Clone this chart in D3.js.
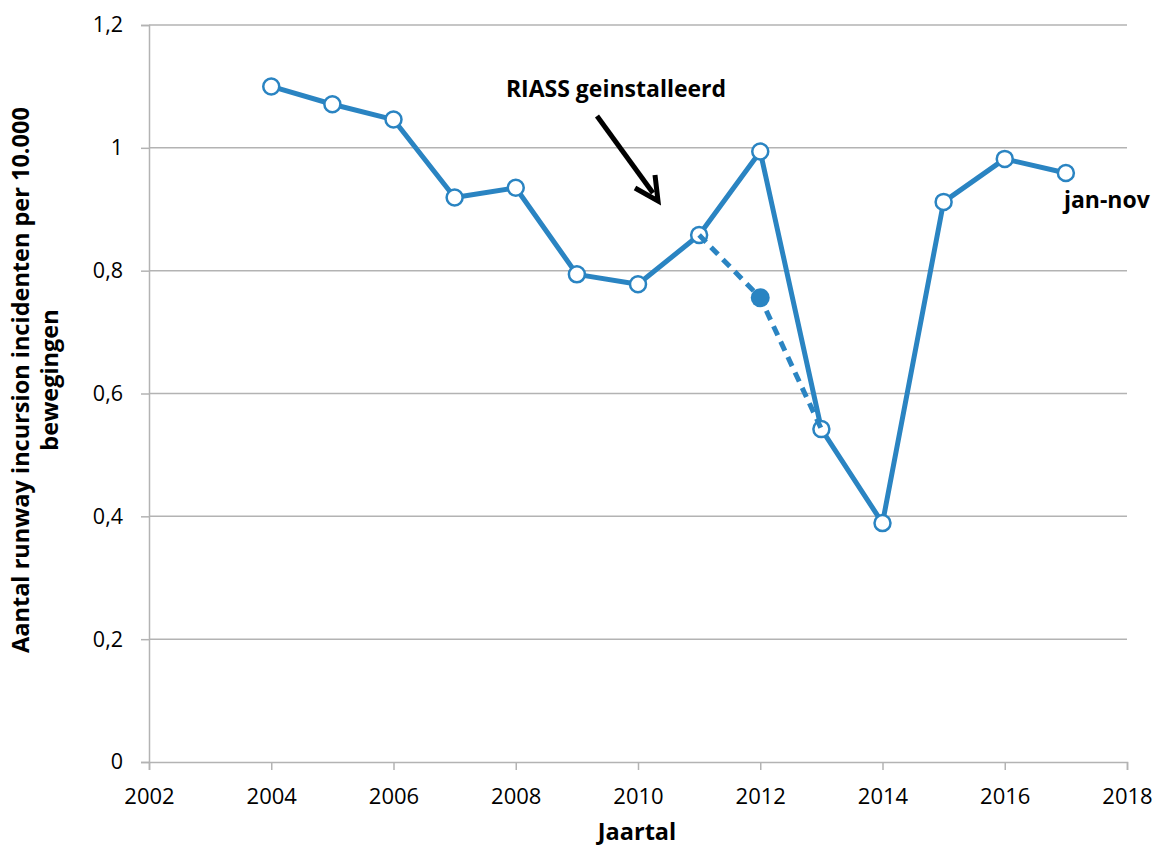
<!DOCTYPE html>
<html>
<head>
<meta charset="utf-8">
<script src="https://cdn.jsdelivr.net/npm/d3@7"></script>
<style>
  html, body { margin: 0; padding: 0; background: #fff; }
  svg { display: block; }
  text { font-family: "Open Sans", "Noto Sans", sans-serif; }
</style>
</head>
<body>
<svg id="chart" width="1157" height="847"></svg>
<script>
// Runway incursion incidents per 10,000 movements, by year
const years = [2004, 2005, 2006, 2007, 2008, 2009, 2010, 2011, 2012, 2013, 2014, 2015, 2016, 2017];
const rates = [1.10, 1.071, 1.046, 0.919, 0.935, 0.794, 0.778, 0.858, 0.994, 0.542, 0.389, 0.912, 0.982, 0.959];

// Alternative course for 2012 (dashed)
const altYears = [2011, 2012, 2013];
const altRates = [0.858, 0.756, 0.542];

const xTicks = [2002, 2004, 2006, 2008, 2010, 2012, 2014, 2016, 2018];
const yTicks = [0, 0.2, 0.4, 0.6, 0.8, 1.0, 1.2];

const annotationText = "RIASS geinstalleerd";
const lastPointNote = "jan-nov";
const yTitleLines = ["Aantal runway incursion incidenten per 10.000", "bewegingen"];
const xTitle = "Jaartal";

const blue = "#2a84c2";
const gridColor = "#b3b3b3";

const svg = d3.select("#chart");
const plotLeft = 149, plotRight = 1127, plotTop = 25, plotBottom = 762;

const x = d3.scaleLinear().domain([2002, 2018]).range([plotLeft, plotRight]);
const y = d3.scaleLinear().domain([0, 1.2]).range([plotBottom, plotTop]);
const fmt = v => String(+v.toFixed(1)).replace(".", ",");

// horizontal gridlines
svg.append("g")
  .selectAll("line")
  .data(yTicks.filter(d => d > 0))
  .join("line")
  .attr("x1", plotLeft).attr("x2", plotRight)
  .attr("y1", d => y(d)).attr("y2", d => y(d))
  .attr("stroke", gridColor).attr("stroke-width", 1.5);

// y axis
const yAxis = svg.append("g")
  .attr("transform", `translate(${plotLeft},0)`)
  .call(d3.axisLeft(y).tickValues(yTicks).tickFormat(fmt).tickSize(8).tickPadding(18));
yAxis.select(".domain").attr("stroke", gridColor).attr("stroke-width", 1.5);
yAxis.selectAll(".tick line").attr("stroke", gridColor).attr("stroke-width", 1.5);
yAxis.selectAll("text").attr("font-size", 21.5).attr("fill", "#000")
  .attr("font-family", "'Open Sans', sans-serif");

// x axis
const xAxis = svg.append("g")
  .attr("transform", `translate(0,${plotBottom})`)
  .call(d3.axisBottom(x).tickValues(xTicks).tickFormat(d3.format("d")).tickSize(8).tickPadding(18));
xAxis.select(".domain").attr("stroke", gridColor).attr("stroke-width", 1.5);
xAxis.selectAll(".tick line").attr("stroke", gridColor).attr("stroke-width", 1.5);
xAxis.selectAll("text").attr("font-size", 22).attr("fill", "#000")
  .attr("font-family", "'Open Sans', sans-serif");

// axis titles
svg.append("text")
  .attr("x", 637).attr("y", 840)
  .attr("text-anchor", "middle")
  .attr("font-size", 23.5).attr("font-weight", "bold")
  .text(xTitle);

const yTitle = svg.append("text")
  .attr("transform", "translate(29,380) rotate(-90)")
  .attr("text-anchor", "middle")
  .attr("font-size", 23.5).attr("font-weight", "bold");
yTitle.selectAll("tspan")
  .data(yTitleLines)
  .join("tspan")
  .attr("x", 0)
  .attr("dy", (d, i) => i === 0 ? 0 : 29)
  .text(d => d);

// main series
const line = d3.line().x(d => x(d[0])).y(d => y(d[1]));
const mainData = years.map((yr, i) => [yr, rates[i]]);
const altData = altYears.map((yr, i) => [yr, altRates[i]]);

svg.append("path")
  .datum(mainData)
  .attr("d", line)
  .attr("fill", "none")
  .attr("stroke", blue).attr("stroke-width", 5)
  .attr("stroke-linejoin", "round");

svg.append("g")
  .selectAll("circle")
  .data(mainData)
  .join("circle")
  .attr("cx", d => x(d[0])).attr("cy", d => y(d[1]))
  .attr("r", 8)
  .attr("fill", "#fff").attr("stroke", blue).attr("stroke-width", 2.5);

// dashed alternative series
svg.append("path")
  .datum(altData)
  .attr("d", line)
  .attr("fill", "none")
  .attr("stroke", blue).attr("stroke-width", 5)
  .attr("stroke-dasharray", "10,7");

svg.append("circle")
  .attr("cx", x(altData[1][0])).attr("cy", y(altData[1][1]))
  .attr("r", 9.5)
  .attr("fill", blue);

// annotation arrow
svg.append("line")
  .attr("x1", 597).attr("y1", 116)
  .attr("x2", 653).attr("y2", 193)
  .attr("stroke", "#000").attr("stroke-width", 5);
svg.append("path")
  .attr("d", "M635,188 L658,201 L655,175")
  .attr("fill", "none")
  .attr("stroke", "#000").attr("stroke-width", 5)
  .attr("stroke-linejoin", "miter");

svg.append("text")
  .attr("x", 616).attr("y", 97)
  .attr("text-anchor", "middle")
  .attr("font-size", 23).attr("font-weight", "bold")
  .text(annotationText);

svg.append("text")
  .attr("x", x(2017) - 2).attr("y", 208)
  .attr("font-size", 23).attr("font-weight", "bold")
  .text(lastPointNote);
</script>
</body>
</html>
